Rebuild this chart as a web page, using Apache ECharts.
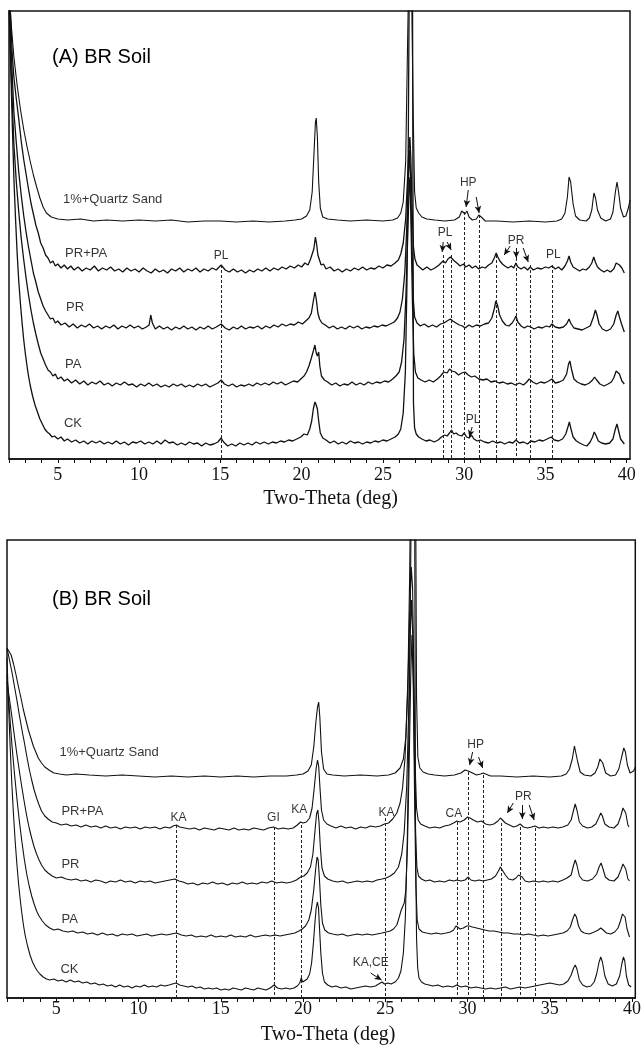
<!DOCTYPE html>
<html><head><meta charset="utf-8">
<script src="https://cdn.jsdelivr.net/npm/echarts@6/dist/echarts.min.js"></script>
<style>html,body{margin:0;padding:0;background:#fff}#c{width:644px;height:1048px}</style>
</head><body><div id="c"></div>
<script>
// ---------- DATA (intensity above each trace's own baseline, 2θ in degrees) ----------
const SERIES_NAMES = ['1%+Quartz Sand','PR+PA','PR','PA','CK'];
// stacking offsets used in the original figure
const OFFSETS_A = [237,190,132,75,16];
const OFFSETS_B = [221,170,116,63,10];
const X_TICK_LABELS = [5,10,15,20,25,30,35,40];

const A_QUARTZ = [[2.0,230],[2.15,195],[2.3,165],[2.5,137],[2.7,113],[2.9,93],[3.1,76],[3.3,61],[3.5,47],[3.7,35],[3.9,24],[4.1,15],[4.3,9],[4.6,5],[5.0,3],[5.6,2],[6.4,3],[7.2,1],[8.0,2],[9.0,1],[10.0,2],[11.0,1],[12.0,2],[13.0,0],[14.0,1],[15.0,1],[16.0,0],[17.0,1],[18.0,0],[19.0,1],[19.6,2],[20.0,3],[20.3,6],[20.5,12],[20.65,30],[20.75,65],[20.85,100],[20.9,104],[20.97,85],[21.05,40],[21.15,14],[21.3,5],[21.6,3],[22.2,2],[23.0,1],[24.0,2],[25.0,1],[25.6,2],[25.9,4],[26.1,9],[26.25,20],[26.4,60],[26.5,160],[26.6,260],[26.75,260],[26.85,120],[26.95,30],[27.05,14],[27.2,9],[27.4,5],[27.7,3],[28.2,2],[28.8,1],[29.4,2],[29.7,5],[29.85,11],[29.95,12],[30.05,8],[30.17,11],[30.3,5],[30.5,2],[30.75,3],[30.9,7],[31.05,5],[31.3,1],[32.0,1],[33.0,0],[34.0,1],[35.0,0],[35.7,1],[36.0,3],[36.2,9],[36.35,25],[36.45,45],[36.55,40],[36.7,18],[36.85,6],[37.1,2],[37.5,1],[37.7,4],[37.85,12],[37.98,29],[38.08,24],[38.2,12],[38.4,4],[38.7,1],[39.0,3],[39.15,10],[39.3,30],[39.4,40],[39.5,30],[39.62,14],[39.8,5],[39.95,6],[40.1,14],[40.2,22]];
const A_PRPA = [[2.0,300],[2.1,250],[2.2,215],[2.3,192],[2.45,170],[2.6,150],[2.75,128],[2.9,110],[3.05,95],[3.2,80],[3.35,66],[3.5,55],[3.65,44],[3.8,36],[3.95,26],[4.1,21],[4.25,14],[4.4,11],[4.55,6],[4.7,8],[4.85,3],[5.0,5],[5.2,1],[5.4,4],[5.6,0],[5.8,3],[6.0,-1],[6.25,2],[6.5,-2],[6.75,1],[7.0,-1],[7.25,3],[7.5,-2],[7.75,1],[8.0,-1],[8.25,2],[8.5,-2],[8.75,0],[9.0,-3],[9.25,1],[9.5,-2],[9.75,0],[10.0,-3],[10.25,1],[10.5,-2],[10.75,-4],[11.0,0],[11.25,-3],[11.5,-1],[11.75,-4],[12.0,0],[12.25,-2],[12.5,1],[12.75,-3],[13.0,0],[13.25,-2],[13.5,1],[13.75,-3],[14.0,0],[14.25,-2],[14.5,1],[14.75,-1],[15.05,4],[15.3,-1],[15.55,-3],[15.8,0],[16.05,-3],[16.3,-1],[16.55,-4],[16.8,-1],[17.05,-3],[17.3,0],[17.55,-2],[17.8,1],[18.05,-2],[18.3,1],[18.55,-1],[18.8,2],[19.05,0],[19.3,3],[19.55,1],[19.8,4],[20.0,2],[20.2,6],[20.4,4],[20.55,10],[20.65,8],[20.75,20],[20.85,32],[20.93,24],[21.0,14],[21.1,9],[21.2,4],[21.35,5],[21.5,0],[21.75,2],[22.0,-2],[22.25,0],[22.5,-3],[22.75,0],[23.0,-2],[23.25,1],[23.5,-1],[23.75,2],[24.0,-1],[24.25,1],[24.5,0],[24.75,3],[25.0,1],[25.25,4],[25.5,3],[25.75,6],[25.95,9],[26.1,15],[26.25,26],[26.4,50],[26.5,85],[26.6,120],[26.66,132],[26.72,110],[26.8,60],[26.88,22],[26.97,10],[27.1,4],[27.25,2],[27.45,-1],[27.7,2],[27.95,-1],[28.2,1],[28.45,4],[28.7,8],[28.85,6],[29.0,10],[29.15,12],[29.25,14],[29.4,8],[29.55,6],[29.75,3],[29.95,5],[30.1,2],[30.3,4],[30.5,1],[30.7,3],[30.9,0],[31.1,2],[31.3,1],[31.5,4],[31.7,6],[31.85,11],[31.97,16],[32.07,12],[32.2,8],[32.35,5],[32.5,3],[32.7,1],[32.9,3],[33.05,1],[33.18,6],[33.3,2],[33.5,0],[33.7,2],[33.9,-1],[34.06,2],[34.25,-1],[34.5,1],[34.75,0],[35.0,2],[35.2,1],[35.4,3],[35.6,0],[35.8,2],[36.0,-1],[36.2,3],[36.35,8],[36.45,13],[36.55,7],[36.7,2],[36.9,0],[37.1,-2],[37.3,0],[37.5,-1],[37.7,2],[37.85,6],[37.97,12],[38.07,7],[38.2,2],[38.4,-1],[38.6,-3],[38.8,-1],[39.0,-3],[39.2,0],[39.35,6],[39.45,8],[39.55,4],[39.7,1],[39.85,-4]];
const A_PR = [[2.0,340],[2.1,290],[2.2,252],[2.3,215],[2.45,184],[2.6,155],[2.75,132],[2.9,112],[3.05,95],[3.2,80],[3.35,67],[3.5,54],[3.65,45],[3.8,35],[3.95,28],[4.1,21],[4.25,16],[4.4,12],[4.55,8],[4.7,9],[4.85,4],[5.0,6],[5.2,2],[5.45,4],[5.7,0],[5.95,3],[6.2,-1],[6.45,2],[6.7,0],[6.95,3],[7.2,-1],[7.45,1],[7.7,-2],[7.95,1],[8.2,-1],[8.45,2],[8.7,-2],[8.95,1],[9.2,-1],[9.45,2],[9.7,-1],[9.95,1],[10.2,-2],[10.45,0],[10.62,2],[10.72,12],[10.82,4],[11.0,-2],[11.25,1],[11.5,-2],[11.75,0],[12.0,-3],[12.25,0],[12.5,-2],[12.75,1],[13.0,-2],[13.25,0],[13.5,-3],[13.75,0],[14.0,-2],[14.25,1],[14.5,-2],[14.75,0],[15.05,3],[15.3,-1],[15.55,-3],[15.8,0],[16.05,-2],[16.3,1],[16.55,-2],[16.8,0],[17.05,-1],[17.3,1],[17.55,-2],[17.8,1],[18.05,-1],[18.3,2],[18.55,0],[18.8,3],[19.05,1],[19.3,3],[19.55,2],[19.8,5],[20.05,3],[20.25,6],[20.45,9],[20.6,14],[20.72,26],[20.82,35],[20.9,28],[21.0,14],[21.1,8],[21.25,4],[21.45,2],[21.7,-1],[21.95,1],[22.2,-2],[22.45,0],[22.7,-2],[22.95,1],[23.2,-1],[23.45,1],[23.7,-2],[23.95,0],[24.2,-1],[24.45,1],[24.7,0],[24.95,2],[25.2,1],[25.45,3],[25.7,5],[25.9,9],[26.05,15],[26.2,28],[26.35,55],[26.47,100],[26.57,150],[26.64,177],[26.7,150],[26.78,85],[26.86,30],[26.95,10],[27.1,4],[27.3,1],[27.55,3],[27.8,0],[28.05,2],[28.3,0],[28.55,3],[28.75,4],[28.95,6],[29.15,8],[29.3,6],[29.5,4],[29.7,2],[29.9,1],[30.05,-1],[30.3,2],[30.5,0],[30.75,2],[31.0,1],[31.25,3],[31.5,4],[31.7,9],[31.85,18],[31.95,26],[32.05,22],[32.18,12],[32.35,6],[32.55,2],[32.75,1],[32.95,4],[33.1,8],[33.18,11],[33.3,5],[33.5,1],[33.7,-1],[33.9,1],[34.1,0],[34.3,-2],[34.55,0],[34.8,-1],[35.05,1],[35.25,0],[35.4,3],[35.6,0],[35.85,-1],[36.1,0],[36.3,3],[36.45,8],[36.55,4],[36.75,-1],[37.0,-2],[37.25,-3],[37.5,-1],[37.75,1],[37.95,10],[38.07,17],[38.17,12],[38.3,3],[38.5,-2],[38.75,-4],[39.0,-2],[39.2,3],[39.35,12],[39.45,16],[39.55,10],[39.7,2],[39.85,-5]];
const A_PA = [[2.0,390],[2.1,330],[2.2,282],[2.3,240],[2.45,202],[2.6,172],[2.75,146],[2.9,125],[3.05,106],[3.2,89],[3.35,74],[3.5,61],[3.65,50],[3.8,40],[3.95,31],[4.1,25],[4.25,19],[4.4,14],[4.55,12],[4.7,8],[4.85,10],[5.0,5],[5.2,7],[5.4,3],[5.6,5],[5.85,1],[6.1,4],[6.35,0],[6.6,3],[6.85,-1],[7.1,2],[7.35,0],[7.6,3],[7.85,-1],[8.1,1],[8.35,-2],[8.6,1],[8.85,-1],[9.1,2],[9.35,-1],[9.6,0],[9.85,-3],[10.1,0],[10.35,-2],[10.6,1],[10.85,-2],[11.1,0],[11.35,-3],[11.6,-1],[11.85,-3],[12.1,0],[12.35,-2],[12.6,0],[12.85,-3],[13.1,-1],[13.35,-3],[13.6,0],[13.85,-2],[14.1,0],[14.35,-3],[14.6,-1],[14.85,1],[15.05,4],[15.25,0],[15.5,-2],[15.75,0],[16.0,-3],[16.25,-1],[16.5,-2],[16.75,0],[17.0,-2],[17.25,1],[17.5,-1],[17.75,1],[18.0,-1],[18.25,2],[18.5,0],[18.75,2],[19.0,-1],[19.25,1],[19.5,3],[19.75,2],[19.95,5],[20.15,8],[20.3,12],[20.45,18],[20.6,26],[20.72,33],[20.82,39],[20.9,31],[20.97,28],[21.05,32],[21.12,18],[21.22,8],[21.4,4],[21.6,2],[21.85,-1],[22.1,1],[22.35,-2],[22.6,0],[22.85,-1],[23.1,2],[23.35,-1],[23.6,1],[23.85,-1],[24.1,2],[24.35,0],[24.6,2],[24.85,1],[25.1,3],[25.35,2],[25.6,5],[25.8,8],[26.0,12],[26.15,22],[26.3,45],[26.42,90],[26.53,150],[26.62,200],[26.67,207],[26.73,160],[26.82,80],[26.9,30],[27.0,12],[27.15,6],[27.35,4],[27.6,2],[27.85,4],[28.1,2],[28.35,5],[28.55,8],[28.75,12],[28.95,11],[29.1,15],[29.25,13],[29.45,12],[29.65,9],[29.85,11],[30.05,12],[30.25,9],[30.45,7],[30.65,8],[30.9,5],[31.15,4],[31.4,5],[31.65,2],[31.9,3],[32.15,1],[32.4,2],[32.65,0],[32.9,1],[33.15,-1],[33.4,1],[33.65,-1],[33.85,2],[34.0,5],[34.1,7],[34.22,2],[34.45,0],[34.7,2],[34.95,1],[35.2,3],[35.4,5],[35.6,1],[35.85,2],[36.1,4],[36.3,10],[36.42,20],[36.5,23],[36.6,15],[36.75,5],[36.95,2],[37.2,0],[37.45,-1],[37.7,1],[37.9,4],[38.02,7],[38.15,4],[38.35,0],[38.6,-2],[38.85,0],[39.05,2],[39.2,6],[39.35,13],[39.45,15],[39.55,10],[39.7,3],[39.85,0]];
const A_CK = [[2.0,440],[2.1,380],[2.2,320],[2.3,265],[2.4,225],[2.5,190],[2.6,162],[2.7,140],[2.8,121],[2.9,104],[3.0,90],[3.1,78],[3.2,67],[3.3,58],[3.45,47],[3.6,38],[3.75,31],[3.9,24],[4.05,19],[4.2,14],[4.35,11],[4.5,9],[4.65,6],[4.8,7],[5.0,4],[5.2,6],[5.4,2],[5.6,4],[5.85,1],[6.1,3],[6.35,0],[6.6,2],[6.85,-1],[7.1,2],[7.35,0],[7.6,2],[7.85,-1],[8.1,1],[8.35,-1],[8.6,2],[8.85,-1],[9.1,1],[9.35,-2],[9.6,1],[9.85,0],[10.1,2],[10.35,-1],[10.6,1],[10.85,-1],[11.1,2],[11.35,-1],[11.6,3],[11.85,0],[12.1,1],[12.35,-2],[12.6,0],[12.85,-2],[13.1,1],[13.35,-1],[13.6,0],[13.85,-3],[14.1,0],[14.35,-2],[14.6,-1],[14.85,1],[15.05,5],[15.2,1],[15.45,-3],[15.7,-1],[15.95,-3],[16.2,0],[16.45,-2],[16.7,0],[16.95,-2],[17.2,1],[17.45,-1],[17.7,1],[17.95,-1],[18.2,1],[18.45,0],[18.7,2],[18.95,1],[19.2,3],[19.45,2],[19.7,4],[19.95,6],[20.15,9],[20.35,8],[20.5,14],[20.62,22],[20.72,34],[20.82,41],[20.9,38],[20.97,34],[21.05,22],[21.15,10],[21.3,5],[21.5,3],[21.75,0],[22.0,2],[22.25,-1],[22.5,1],[22.75,-1],[23.0,2],[23.25,0],[23.5,1],[23.75,-1],[24.0,1],[24.25,0],[24.5,2],[24.75,1],[25.0,3],[25.25,2],[25.5,4],[25.75,6],[25.95,9],[26.1,14],[26.25,30],[26.38,70],[26.48,160],[26.56,300],[26.62,460],[26.82,460],[26.88,40],[26.95,15],[27.05,9],[27.2,6],[27.4,4],[27.65,2],[27.9,3],[28.15,1],[28.4,3],[28.6,6],[28.8,8],[28.95,7],[29.1,10],[29.22,13],[29.35,9],[29.5,10],[29.65,8],[29.85,7],[30.0,10],[30.15,6],[30.3,5],[30.45,8],[30.6,4],[30.8,2],[31.0,3],[31.25,1],[31.5,0],[31.75,2],[32.0,0],[32.25,1],[32.5,-1],[32.75,1],[33.0,0],[33.18,3],[33.4,0],[33.65,1],[33.9,-1],[34.1,2],[34.35,1],[34.6,3],[34.85,2],[35.1,4],[35.35,6],[35.55,3],[35.8,2],[36.05,4],[36.25,9],[36.38,16],[36.47,21],[36.57,14],[36.7,6],[36.9,2],[37.1,0],[37.35,-2],[37.55,-3],[37.75,1],[37.9,6],[38.0,11],[38.1,8],[38.25,2],[38.45,0],[38.7,-1],[38.95,0],[39.15,4],[39.3,14],[39.4,19],[39.5,12],[39.62,4],[39.85,-1]];

const B_QUARTZ = [[2.0,129],[2.1,130],[2.25,122],[2.4,113],[2.55,102],[2.7,90],[2.85,79],[3.0,67],[3.15,57],[3.3,47],[3.45,39],[3.6,31],[3.75,25],[3.9,19],[4.1,14],[4.3,10],[4.55,7],[4.85,4],[5.2,3],[5.6,2],[6.2,3],[7.0,2],[8.0,1],[9.0,2],[10.0,1],[11.0,0],[12.0,1],[13.0,0],[14.0,1],[15.0,0],[16.0,1],[17.0,0],[18.0,1],[19.0,1],[19.6,2],[20.0,3],[20.3,6],[20.5,12],[20.65,30],[20.78,55],[20.88,70],[20.95,75],[21.02,60],[21.12,25],[21.25,8],[21.45,3],[21.8,2],[22.5,1],[23.5,2],[24.5,1],[25.2,2],[25.6,4],[25.9,9],[26.1,18],[26.25,40],[26.38,100],[26.48,200],[26.56,320],[26.62,460],[26.8,460],[26.9,80],[26.98,20],[27.1,9],[27.3,5],[27.6,3],[28.0,2],[28.6,1],[29.2,2],[29.6,4],[29.85,7],[29.95,8],[30.05,6],[30.15,7],[30.3,4],[30.55,2],[30.8,3],[30.95,4],[31.1,3],[31.4,1],[32.0,1],[33.0,0],[34.0,1],[35.0,0],[35.7,1],[36.0,3],[36.2,8],[36.37,18],[36.5,31],[36.58,29],[36.7,15],[36.85,5],[37.1,2],[37.5,1],[37.75,4],[37.92,10],[38.05,18],[38.12,20],[38.22,14],[38.4,4],[38.7,1],[39.0,2],[39.2,8],[39.37,20],[39.5,29],[39.6,25],[39.72,12],[39.88,4],[40.0,3],[40.1,6],[40.2,10]];
const B_PRPA = [[2.0,180],[2.15,168],[2.3,156],[2.45,142],[2.6,128],[2.75,113],[2.9,99],[3.05,86],[3.2,72],[3.35,59],[3.5,48],[3.65,38],[3.8,30],[3.95,23],[4.1,17],[4.3,12],[4.5,9],[4.75,6],[5.0,5],[5.3,3],[5.6,4],[5.9,2],[6.2,3],[6.5,1],[6.8,3],[7.1,1],[7.4,2],[7.7,0],[8.0,2],[8.3,0],[8.6,1],[8.9,-1],[9.2,1],[9.5,0],[9.8,1],[10.1,-1],[10.4,1],[10.7,0],[11.0,1],[11.3,-1],[11.6,1],[11.9,0],[12.1,2],[12.3,3],[12.5,1],[12.8,0],[13.1,-1],[13.4,0],[13.7,-2],[14.0,0],[14.3,-1],[14.6,-2],[14.9,0],[15.2,-1],[15.5,-2],[15.8,0],[16.1,-2],[16.4,-1],[16.7,-2],[17.0,0],[17.3,-1],[17.6,-2],[17.9,0],[18.2,1],[18.5,-1],[18.8,0],[19.1,-1],[19.4,0],[19.65,3],[19.85,6],[20.0,5],[20.2,6],[20.4,10],[20.55,20],[20.68,40],[20.8,60],[20.88,68],[20.95,62],[21.03,40],[21.12,18],[21.25,8],[21.45,4],[21.7,2],[22.0,0],[22.3,2],[22.6,0],[22.9,1],[23.2,-1],[23.5,1],[23.8,0],[24.1,2],[24.4,1],[24.7,2],[24.95,4],[25.2,5],[25.45,9],[25.7,15],[25.9,25],[26.05,40],[26.2,70],[26.35,130],[26.48,210],[26.58,261],[26.66,240],[26.74,150],[26.82,60],[26.9,20],[27.0,8],[27.15,4],[27.4,2],[27.7,0],[28.0,1],[28.3,0],[28.6,2],[28.9,3],[29.15,5],[29.35,7],[29.55,6],[29.8,8],[30.0,11],[30.15,10],[30.35,8],[30.6,6],[30.85,7],[31.1,4],[31.35,3],[31.6,4],[31.85,7],[32.0,10],[32.12,9],[32.3,5],[32.55,3],[32.8,1],[33.0,2],[33.2,4],[33.4,1],[33.65,0],[33.9,1],[34.1,2],[34.35,0],[34.6,1],[34.9,0],[35.2,1],[35.5,0],[35.8,1],[36.1,3],[36.3,8],[36.45,18],[36.55,24],[36.65,18],[36.8,6],[37.0,2],[37.3,0],[37.55,1],[37.8,4],[37.97,10],[38.1,15],[38.2,12],[38.35,4],[38.6,1],[38.9,0],[39.15,4],[39.32,12],[39.45,20],[39.53,22],[39.62,15],[39.75,3],[39.82,1]];
const B_PR = [[2.0,200],[2.15,183],[2.3,165],[2.45,146],[2.6,128],[2.75,111],[2.9,95],[3.05,80],[3.2,66],[3.35,54],[3.5,44],[3.65,35],[3.8,28],[3.95,22],[4.1,17],[4.3,12],[4.5,9],[4.75,6],[5.0,4],[5.3,5],[5.6,3],[5.9,2],[6.2,3],[6.5,1],[6.8,2],[7.1,0],[7.4,2],[7.7,1],[8.0,-1],[8.3,1],[8.6,0],[8.9,2],[9.2,0],[9.5,1],[9.8,-1],[10.1,1],[10.4,0],[10.7,1],[11.0,-1],[11.3,0],[11.6,1],[11.9,2],[12.2,3],[12.45,1],[12.7,0],[13.0,-2],[13.3,-1],[13.6,-3],[13.9,-1],[14.2,-2],[14.5,0],[14.8,-2],[15.1,-1],[15.4,-3],[15.7,-1],[16.0,-2],[16.3,0],[16.6,-2],[16.9,-1],[17.2,-2],[17.5,0],[17.8,-1],[18.1,1],[18.4,-1],[18.7,0],[19.0,-1],[19.3,0],[19.6,2],[19.85,5],[20.05,6],[20.25,9],[20.45,15],[20.6,28],[20.72,50],[20.82,68],[20.9,72],[20.97,60],[21.05,35],[21.15,14],[21.3,6],[21.5,3],[21.8,1],[22.1,0],[22.4,1],[22.7,-1],[23.0,0],[23.3,1],[23.6,0],[23.9,1],[24.2,0],[24.5,2],[24.8,3],[25.05,4],[25.3,6],[25.55,9],[25.8,15],[26.0,28],[26.15,50],[26.3,95],[26.42,170],[26.52,250],[26.6,282],[26.68,240],[26.76,140],[26.84,50],[26.92,15],[27.02,6],[27.2,3],[27.45,1],[27.7,2],[28.0,0],[28.3,1],[28.6,0],[28.9,2],[29.15,1],[29.35,2],[29.6,1],[29.85,2],[30.05,5],[30.2,2],[30.45,1],[30.7,2],[30.95,1],[31.2,2],[31.45,3],[31.7,6],[31.88,11],[32.0,15],[32.12,13],[32.3,7],[32.5,3],[32.75,2],[32.95,4],[33.1,7],[33.2,8],[33.32,5],[33.5,1],[33.75,0],[34.0,1],[34.11,2],[34.35,0],[34.6,1],[34.9,0],[35.2,1],[35.5,0],[35.8,2],[36.05,4],[36.15,2],[36.3,7],[36.45,17],[36.55,22],[36.65,17],[36.8,6],[37.0,2],[37.3,1],[37.6,3],[37.85,8],[38.0,15],[38.12,19],[38.22,14],[38.38,5],[38.6,2],[38.9,1],[39.15,5],[39.32,12],[39.45,18],[39.53,19],[39.62,13],[39.75,3],[39.85,1]];
const B_PA = [[2.0,260],[2.1,236],[2.2,212],[2.3,190],[2.45,162],[2.6,137],[2.75,114],[2.9,94],[3.05,76],[3.2,61],[3.35,49],[3.5,39],[3.65,31],[3.8,24],[3.95,19],[4.15,14],[4.35,10],[4.6,7],[4.85,5],[5.1,6],[5.4,4],[5.7,3],[6.0,4],[6.3,2],[6.6,3],[6.9,1],[7.2,2],[7.5,0],[7.8,2],[8.1,0],[8.4,1],[8.7,-1],[9.0,1],[9.3,0],[9.6,1],[9.9,-1],[10.2,0],[10.5,1],[10.8,-1],[11.1,0],[11.4,1],[11.7,0],[12.0,1],[12.3,2],[12.6,0],[12.9,-1],[13.2,0],[13.5,-2],[13.8,-1],[14.1,-2],[14.4,0],[14.7,-2],[15.0,-1],[15.3,-2],[15.6,0],[15.9,-2],[16.2,-1],[16.5,-2],[16.8,0],[17.1,-2],[17.4,-1],[17.7,0],[18.0,-1],[18.3,0],[18.6,-1],[18.9,0],[19.2,1],[19.5,2],[19.75,4],[19.95,6],[20.15,9],[20.35,15],[20.5,25],[20.65,45],[20.76,65],[20.85,78],[20.92,75],[21.0,55],[21.08,30],[21.18,12],[21.32,5],[21.55,2],[21.8,1],[22.1,0],[22.4,1],[22.7,-1],[23.0,0],[23.3,1],[23.6,0],[23.9,1],[24.2,0],[24.5,1],[24.8,2],[25.05,3],[25.3,4],[25.5,6],[25.7,10],[25.85,18],[25.95,24],[26.05,26],[26.15,32],[26.25,45],[26.35,90],[26.45,170],[26.55,260],[26.62,300],[26.7,250],[26.78,140],[26.86,50],[26.94,15],[27.05,6],[27.25,3],[27.5,2],[27.8,1],[28.1,2],[28.4,1],[28.7,2],[28.95,3],[29.15,5],[29.3,9],[29.4,11],[29.55,6],[29.75,7],[29.95,9],[30.1,9],[30.3,8],[30.55,7],[30.8,6],[31.05,5],[31.3,4],[31.6,4],[31.9,3],[32.2,2],[32.5,2],[32.8,1],[33.1,1],[33.4,0],[33.7,1],[34.0,0],[34.3,-1],[34.6,0],[34.9,-1],[35.2,0],[35.5,1],[35.8,2],[36.05,4],[36.25,8],[36.4,16],[36.52,21],[36.62,18],[36.75,9],[36.9,4],[37.1,2],[37.4,1],[37.7,3],[37.95,5],[38.1,7],[38.25,5],[38.45,2],[38.7,1],[38.95,3],[39.15,7],[39.3,14],[39.42,21],[39.5,23],[39.58,18],[39.7,6],[39.85,-2]];
const B_CK = [[2.0,330],[2.1,280],[2.2,238],[2.3,202],[2.4,172],[2.5,146],[2.6,124],[2.7,105],[2.8,89],[2.9,75],[3.0,63],[3.1,53],[3.25,42],[3.4,33],[3.55,26],[3.7,21],[3.85,17],[4.0,14],[4.2,11],[4.4,9],[4.6,8],[4.85,9],[5.1,7],[5.35,8],[5.6,6],[5.85,8],[6.1,6],[6.35,7],[6.6,5],[6.85,6],[7.1,4],[7.35,5],[7.6,3],[7.85,4],[8.1,2],[8.35,3],[8.6,1],[8.85,3],[9.1,1],[9.35,2],[9.6,0],[9.85,2],[10.1,1],[10.35,3],[10.6,1],[10.85,2],[11.1,1],[11.35,3],[11.6,2],[11.85,3],[12.05,4],[12.28,5],[12.5,3],[12.75,2],[13.0,1],[13.25,2],[13.5,0],[13.75,1],[14.0,-1],[14.25,0],[14.5,-1],[14.75,0],[15.0,-2],[15.25,-1],[15.5,-2],[15.75,0],[16.0,-1],[16.25,-2],[16.5,0],[16.75,-1],[17.0,-2],[17.25,0],[17.5,-1],[17.75,-2],[18.0,0],[18.24,3],[18.45,0],[18.7,-1],[18.95,0],[19.2,-1],[19.45,0],[19.65,2],[19.8,5],[19.89,10],[19.98,6],[20.1,7],[20.25,9],[20.4,14],[20.52,25],[20.63,45],[20.72,65],[20.8,80],[20.87,86],[20.94,80],[21.0,60],[21.08,35],[21.18,15],[21.3,6],[21.5,3],[21.75,1],[22.0,2],[22.3,0],[22.6,1],[22.9,-1],[23.2,0],[23.5,1],[23.8,2],[24.1,1],[24.4,2],[24.6,4],[24.8,6],[24.95,4],[25.15,5],[25.35,4],[25.6,6],[25.8,10],[25.95,17],[26.1,35],[26.22,70],[26.34,150],[26.44,260],[26.52,380],[26.6,520],[26.78,520],[26.84,150],[26.9,50],[26.97,20],[27.05,10],[27.2,6],[27.4,4],[27.65,3],[27.9,2],[28.2,3],[28.5,1],[28.8,2],[29.1,1],[29.35,3],[29.6,1],[29.9,2],[30.2,0],[30.5,1],[30.8,0],[31.1,-1],[31.4,0],[31.7,-1],[32.0,0],[32.3,1],[32.6,-1],[32.9,0],[33.2,1],[33.5,0],[33.8,1],[34.1,2],[34.4,3],[34.7,4],[35.0,5],[35.3,4],[35.6,3],[35.85,4],[36.1,7],[36.3,13],[36.45,20],[36.55,23],[36.65,19],[36.8,8],[37.0,3],[37.25,1],[37.5,2],[37.7,6],[37.85,14],[38.0,26],[38.1,31],[38.2,26],[38.35,12],[38.55,4],[38.8,2],[39.05,4],[39.25,12],[39.38,24],[39.48,31],[39.56,27],[39.66,12],[39.8,3],[39.95,1]];

// reference lines (2θ, top of dashed line in plot units)
const VLINES_A = [[15.05,194],[28.73,204],[29.18,204],[30.02,247],[30.94,244],[31.97,204],[33.18,201],[34.06,194],[35.40,194]];
const VLINES_B = [[12.28,173],[18.24,171],[19.89,173],[24.99,180],[29.35,176],[30.05,226],[30.93,223],[32.06,175],[33.20,171],[34.11,170]];
// trace labels
const TRACE_LABELS_A = [[5.32,260],[5.45,206],[5.51,152],[5.45,95],[5.38,36]];
const TRACE_LABELS_B = [[5.19,246],[5.31,187],[5.31,134],[5.31,79],[5.25,29]];
// phase tags
const TAGS_A = [['PL',15.05,203],['HP',30.25,276],['PL',28.83,226],['PR',33.2,218],['PL',35.48,204],['PL',30.55,39]];
const TAGS_B = [['HP',30.49,253],['PR',33.39,201],['CA',29.17,184],['KA',12.42,180],['GI',18.2,180],['KA',19.77,188],['KA',25.07,185],['KA,CE',24.11,35]];
// arrows [from θ, from I, to θ, to I]
const ARROWS_A = [[30.25,269,30.12,252],[30.74,262,30.92,246],[28.71,217,28.65,207],[28.95,217,29.2,209],[32.83,213,32.46,204],[33.2,211,33.2,201],[33.63,211,33.94,197],[30.49,32,30.31,22]];
const ARROWS_B = [[30.31,246,30.13,233],[30.67,241,30.92,230],[32.78,195,32.42,185],[33.33,193,33.33,179],[33.75,193,34.05,178],[24.11,25,24.77,18]];

const DATA_A = [A_QUARTZ,A_PRPA,A_PR,A_PA,A_CK];
const DATA_B = [B_QUARTZ,B_PRPA,B_PR,B_PA,B_CK];

// ---------- CHART ----------
const SANS = "'Liberation Sans', Arial, sans-serif";
const SERIF = "'Liberation Serif', 'Times New Roman', serif";
const INK = '#111';
const tickVals = []; for (let t = 2; t <= 40; t++) tickVals.push(t);

function xAxisFor(gi, margin, gap, padLeft) {
  return {
    gridIndex: gi, type: 'value', min: 2, max: 40.2,
    name: 'Two-Theta (deg)', nameLocation: 'middle', nameGap: gap,
    nameTextStyle: {fontFamily: SERIF, fontSize: 20, color: INK, padding: [0,0,0,padLeft]},
    axisLine: {show: true, lineStyle: {color: INK, width: 1.5}},
    axisTick: {show: true, inside: false, length: 4, customValues: tickVals, lineStyle: {color: INK, width: 1}},
    axisLabel: {show: true, customValues: X_TICK_LABELS, margin: margin, fontFamily: SERIF, fontSize: 18, color: INK},
    splitLine: {show: false}
  };
}
function yAxisFor(gi, max) {
  return {gridIndex: gi, type: 'value', min: 0, max: max, show: true,
    axisLine: {show: false}, axisTick: {show: false}, axisLabel: {show: false}, splitLine: {show: false}};
}

const series = [];
function addPanel(gi, data, offsets, vlines, traceLabels, tags, arrows) {
  data.forEach((arr, i) => {
    series.push({
      type: 'line', xAxisIndex: gi, yAxisIndex: gi, name: SERIES_NAMES[i] + (gi ? ' B' : ' A'),
      data: arr.map(p => [p[0], p[1] + offsets[i]]),
      showSymbol: false, symbol: 'none', clip: true, silent: true,
      lineStyle: {color: INK, width: (gi === 0 && i > 0) ? 1.3 : 1.1}, z: 3
    });
  });
  series.push({
    type: 'line', xAxisIndex: gi, yAxisIndex: gi, data: [], silent: true,
    markLine: {
      silent: true, symbol: ['none','none'], animation: false,
      label: {show: false},
      lineStyle: {color: '#222', width: 1, type: [3,2]},
      data: vlines.map(v => [{coord: [v[0], v[1]]}, {coord: [v[0], 0]}])
    }
  });
  series.push({
    type: 'line', xAxisIndex: gi, yAxisIndex: gi, data: [], silent: true,
    markLine: {
      silent: true, symbol: ['none','arrow'], symbolSize: [5,7], animation: false,
      label: {show: false},
      lineStyle: {color: INK, width: 1, type: 'solid'},
      data: arrows.map(a => [{coord: [a[0], a[1]]}, {coord: [a[2], a[3]]}])
    }
  });
  series.push({
    type: 'scatter', xAxisIndex: gi, yAxisIndex: gi, symbolSize: 0, silent: true, z: 5,
    data: traceLabels.map((p, i) => ({value: p, name: SERIES_NAMES[i]})),
    label: {show: true, position: [0,0], align: 'left', verticalAlign: 'middle', formatter: '{b}',
      fontFamily: SANS, fontSize: 13, color: '#000'}
  });
  series.push({
    type: 'scatter', xAxisIndex: gi, yAxisIndex: gi, symbolSize: 0, silent: true, z: 5,
    data: tags.map(t => ({value: [t[1], t[2]], name: t[0]})),
    label: {show: true, position: [0,0], align: 'center', verticalAlign: 'middle', formatter: '{b}',
      fontFamily: SANS, fontSize: 12, color: '#000'}
  });
}
addPanel(0, DATA_A, OFFSETS_A, VLINES_A, TRACE_LABELS_A, TAGS_A, ARROWS_A);
addPanel(1, DATA_B, OFFSETS_B, VLINES_B, TRACE_LABELS_B, TAGS_B, ARROWS_B);

const chart = echarts.init(document.getElementById('c'), null, {renderer: 'canvas'});
chart.setOption({
  animation: false,
  backgroundColor: '#fff',
  title: [
    {text: '(A) BR Soil', left: 52, top: 47, padding: 0, textStyle: {fontFamily: SANS, fontSize: 20, fontWeight: 'normal', color: '#000'}},
    {text: '(B) BR Soil', left: 52, top: 589, padding: 0, textStyle: {fontFamily: SANS, fontSize: 20, fontWeight: 'normal', color: '#000'}}
  ],
  grid: [
    {left: 9, top: 11, width: 621, height: 448, show: true, borderColor: INK, borderWidth: 1.5, backgroundColor: 'transparent'},
    {left: 7, top: 540, width: 634, height: 458, show: true, borderColor: INK, borderWidth: 1.5, backgroundColor: 'transparent'}
  ],
  xAxis: [xAxisFor(0, 7, 30, 22), xAxisFor(1, 2, 27, 14)],
  yAxis: [yAxisFor(0, 448), yAxisFor(1, 458)],
  series: series
});
</script>
</body></html>
